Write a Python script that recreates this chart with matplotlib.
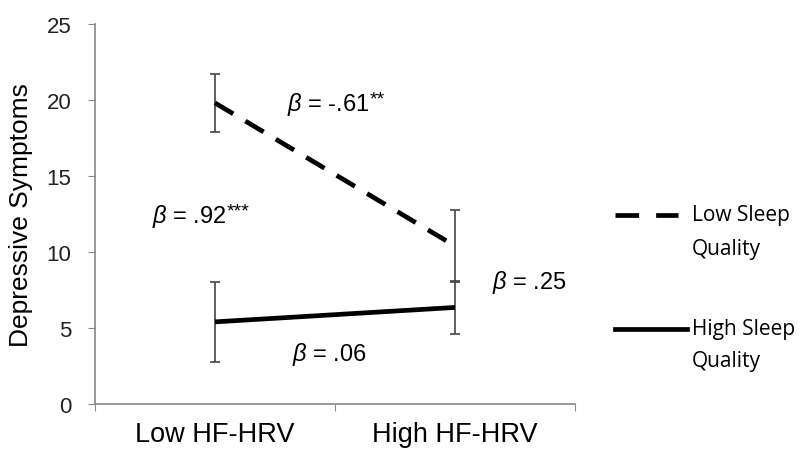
import matplotlib.pyplot as plt
from matplotlib.lines import Line2D

categories = ['Low HF-HRV', 'High HF-HRV']
low_sleep = [19.8, 10.4]
low_sleep_err = [1.9, 2.35]
high_sleep = [5.4, 6.35]
high_sleep_err = [2.65, 1.75]
yticks = [0, 5, 10, 15, 20, 25]

plt.rcParams['font.family'] = ['Liberation Sans', 'DejaVu Sans']
plt.rcParams['mathtext.fontset'] = 'custom'
plt.rcParams['mathtext.it'] = 'Liberation Sans:italic'
plt.rcParams['mathtext.rm'] = 'Liberation Sans'

fig = plt.figure(figsize=(8.05, 4.52), dpi=100)
ax = fig.add_axes([0.118, 0.104, 0.596, 0.841])

xs = [0.5, 1.5]
ax.errorbar(xs, low_sleep, yerr=low_sleep_err, fmt='none', ecolor='#444444',
            elinewidth=1.2, capsize=3.6, capthick=1.2, zorder=2)
ax.errorbar(xs, high_sleep, yerr=high_sleep_err, fmt='none', ecolor='#444444',
            elinewidth=1.2, capsize=3.6, capthick=1.2, zorder=2)
ax.plot(xs, low_sleep, color='black', lw=3.4, dashes=(4.5, 3), zorder=3)
ax.plot(xs, high_sleep, color='black', lw=3.4, solid_capstyle='butt', zorder=3)

ax.set_xlim(0, 2)
ax.set_ylim(0, 25)
ax.set_yticks(yticks)
ax.set_xticks([0, 1, 2])
ax.set_xticklabels([])
ax.set_xticks(xs, minor=True)
ax.set_xticklabels(categories, minor=True)
ax.tick_params(axis='x', which='minor', length=0, pad=12, labelsize=19.5)
ax.tick_params(axis='x', which='major', length=5, color='#888888')
ax.tick_params(axis='y', length=5, labelsize=16, pad=12, labelcolor='#222222', color='#888888')
for s in ['top', 'right']:
    ax.spines[s].set_visible(False)
for s in ['left', 'bottom']:
    ax.spines[s].set_color('#888888')
    ax.spines[s].set_linewidth(1.2)
ax.set_ylabel('Depressive Symptoms', fontsize=19, labelpad=10)


def beta(x, y, txt, stars=''):
    t = ax.text(x, y, r'$\beta$ = ' + txt, fontsize=17, ha='left', va='center')
    if stars:
        ax.annotate(stars, xy=(1, 0.98), xycoords=t, fontsize=14, ha='left', va='top')


beta(0.80, 19.74, '-.61', '**')
beta(0.2375, 12.37, '.92', '***')
beta(1.654, 8.03, '.25')
beta(0.821, 3.29, '.06')

# legend drawn by hand so the sample sits on the first text line
lf = ['Open Sans', 'DejaVu Sans']
fig.add_artist(Line2D([615 / 805, 678 / 805], [1 - 216 / 452] * 2, color='black',
                      lw=3.4, dashes=(5, 3.6)))
fig.text(692 / 805, 1 - 216 / 452, 'Low Sleep', fontsize=15, family=lf, va='center')
fig.text(692 / 805, 1 - 250 / 452, 'Quality', fontsize=15, family=lf, va='center')
fig.add_artist(Line2D([615 / 805, 687 / 805], [1 - 330 / 452] * 2, color='black', lw=3.4))
fig.text(692 / 805, 1 - 330 / 452, 'High Sleep', fontsize=15, family=lf, va='center')
fig.text(692 / 805, 1 - 362 / 452, 'Quality', fontsize=15, family=lf, va='center')

fig.savefig('out.png', dpi=100)
